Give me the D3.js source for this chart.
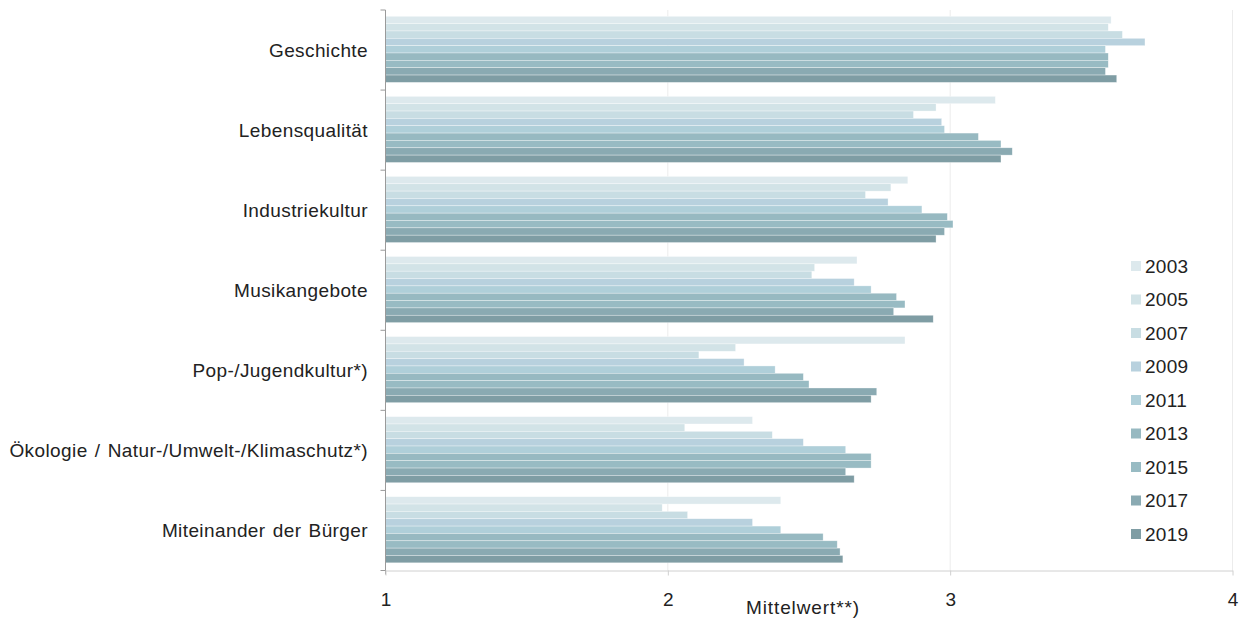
<!DOCTYPE html>
<html>
<head>
<meta charset="utf-8">
<script src="https://cdn.jsdelivr.net/npm/d3@7"></script>
<style>
  html, body { margin: 0; padding: 0; background: #fff; }
  svg { display: block; font-family: "Liberation Sans", Arial, sans-serif; }
</style>
</head>
<body>
<svg id="chart" width="1246" height="619"></svg>
<script>
// Mean ratings per topic, one value per survey year
const categories = [
  "Geschichte",
  "Lebensqualität",
  "Industriekultur",
  "Musikangebote",
  "Pop-/Jugendkultur*)",
  "Ökologie / Natur-/Umwelt-/Klimaschutz*)",
  "Miteinander der Bürger"
];
const years = ["2003", "2005", "2007", "2009", "2011", "2013", "2015", "2017", "2019"];

const v2003 = [3.57, 3.16, 2.85, 2.67, 2.84, 2.30, 2.40];
const v2005 = [3.56, 2.95, 2.79, 2.52, 2.24, 2.06, 1.98];
const v2007 = [3.61, 2.87, 2.70, 2.51, 2.11, 2.37, 2.07];
const v2009 = [3.69, 2.97, 2.78, 2.66, 2.27, 2.48, 2.30];
const v2011 = [3.55, 2.98, 2.90, 2.72, 2.38, 2.63, 2.40];
const v2013 = [3.56, 3.10, 2.99, 2.81, 2.48, 2.72, 2.55];
const v2015 = [3.56, 3.18, 3.01, 2.84, 2.50, 2.72, 2.60];
const v2017 = [3.55, 3.22, 2.98, 2.80, 2.74, 2.63, 2.61];
const v2019 = [3.59, 3.18, 2.95, 2.94, 2.72, 2.66, 2.62];
const seriesValues = [v2003, v2005, v2007, v2009, v2011, v2013, v2015, v2017, v2019];

const xTicks = [1, 2, 3, 4];
const xTitle = "Mittelwert**)";

const colors = ["#dde9ed", "#d2e3e7", "#c8dde3", "#b8d1de", "#afcfd9",
                "#97b9c1", "#98bbc3", "#8aaab2", "#7f9da4"];

const svg = d3.select("#chart");
const margin = { top: 10, left: 385.5, right: 13.5 };
const W = 1246;
const plotBottom = 570.5;
const textColor = "#222";

const x = d3.scaleLinear().domain([1, 4]).range([margin.left, W - margin.right]);
const y = d3.scaleBand().domain(categories).range([margin.top, plotBottom]);
const yInner = d3.scaleBand().domain(years).range([0, y.bandwidth()])
  .paddingOuter(0.95).paddingInner(0).align(0.45);

// vertical grid lines
svg.append("g")
  .selectAll("line")
  .data(xTicks.slice(1))
  .join("line")
  .attr("x1", d => x(d)).attr("x2", d => x(d))
  .attr("y1", margin.top).attr("y2", plotBottom)
  .attr("stroke", "#ececec").attr("stroke-width", 1);

// bars, one group per topic
const rows = categories.map((c, i) => ({
  cat: c,
  vals: years.map((yr, j) => ({ year: yr, value: seriesValues[j][i], color: colors[j] }))
}));

const groups = svg.append("g").selectAll("g")
  .data(rows).join("g")
  .attr("transform", d => `translate(0,${y(d.cat)})`);

groups.selectAll("rect")
  .data(d => d.vals)
  .join("rect")
  .attr("x", x(1))
  .attr("y", d => yInner(d.year))
  .attr("width", d => x(d.value) - x(1))
  .attr("height", yInner.bandwidth())
  .attr("fill", d => d.color)
  .attr("stroke", "rgba(255,255,255,0.55)")
  .attr("stroke-width", 0.6);

// left axis with tick marks between topics
const axisColor = "#9a9a9a";
const leftAxis = svg.append("g");
leftAxis.append("line")
  .attr("x1", x(1)).attr("x2", x(1))
  .attr("y1", margin.top).attr("y2", plotBottom + 4)
  .attr("stroke", axisColor);
const boundaries = categories.map(c => y(c)).concat([plotBottom]);
leftAxis.selectAll(".bt").data(boundaries).join("line")
  .attr("x1", x(1) - 5).attr("x2", x(1))
  .attr("y1", d => d).attr("y2", d => d)
  .attr("stroke", axisColor);

leftAxis.selectAll("text").data(categories).join("text")
  .attr("x", 368)
  .attr("y", c => y(c) + y.bandwidth() / 2)
  .attr("dy", "0.35em")
  .attr("text-anchor", "end")
  .attr("font-size", 19)
  .attr("letter-spacing", 0.4)
  .attr("word-spacing", 1.5)
  .attr("fill", textColor)
  .text(c => c);

// bottom axis
const bottomAxis = d3.axisBottom(x).tickValues(xTicks).tickFormat(d3.format("d"))
  .tickSizeInner(5).tickSizeOuter(0).tickPadding(17);
const gx = svg.append("g")
  .attr("transform", `translate(0,${plotBottom})`)
  .call(bottomAxis);
gx.select(".domain").attr("stroke", "#d0d0d0");
gx.selectAll(".tick line").attr("stroke", "#d0d0d0");
gx.selectAll(".tick text")
  .attr("font-size", 19)
  .attr("font-family", "Liberation Sans, Arial, sans-serif")
  .attr("fill", textColor);

svg.append("text")
  .attr("x", 803).attr("y", 614)
  .attr("text-anchor", "middle")
  .attr("font-size", 19)
  .attr("letter-spacing", 0.9)
  .attr("fill", textColor)
  .text(xTitle);

// legend
const legend = svg.append("g").attr("transform", "translate(1131,266)");
const li = legend.selectAll("g").data(years).join("g")
  .attr("transform", (d, i) => `translate(0,${i * 33.5})`);
li.append("rect")
  .attr("x", 0).attr("y", -5).attr("width", 10).attr("height", 10)
  .attr("fill", (d, i) => colors[i]);
li.append("text")
  .attr("x", 14).attr("y", 0).attr("dy", "0.35em")
  .attr("font-size", 19).attr("letter-spacing", 0.3)
  .attr("fill", textColor)
  .text(d => d);
</script>
</body>
</html>
